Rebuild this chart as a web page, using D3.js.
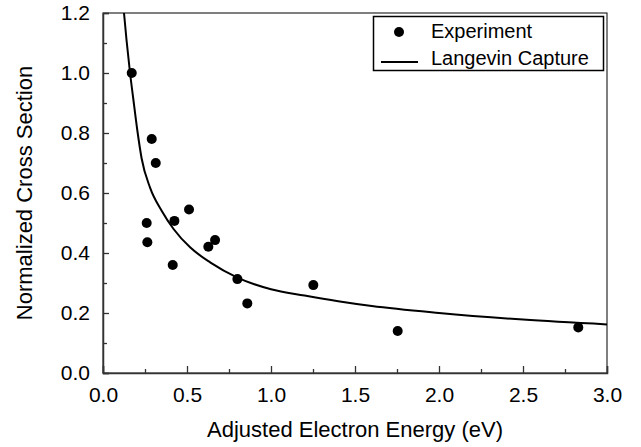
<!DOCTYPE html>
<html>
<head>
<meta charset="utf-8">
<script src="https://cdn.jsdelivr.net/npm/d3@7"></script>
<style>
  body { margin: 0; background: #fff; }
  text { font-family: "Liberation Sans", Arial, Helvetica, sans-serif; fill: #000; }
</style>
</head>
<body>
<script>
// experiment points (eV, normalized cross section)
const expEnergy = [0.171, 0.29, 0.314, 0.26, 0.264, 0.425, 0.512, 0.415, 0.627, 0.667, 0.80, 0.859, 1.252, 1.754, 2.829]
const expSigma  = [1.00, 0.78, 0.70, 0.50, 0.436, 0.507, 0.545, 0.36, 0.421, 0.443, 0.313, 0.232, 0.293, 0.14, 0.152]

// Langevin capture curve
const capEnergy = [0.125, 0.14, 0.161, 0.18, 0.204, 0.23, 0.28, 0.35, 0.42, 0.52, 0.64, 0.80, 1.0, 1.2, 1.4, 1.6, 2.0, 2.5, 3.0]
const capSigma  = [1.2, 1.11, 1.0, 0.915, 0.81, 0.715, 0.618, 0.54, 0.48, 0.418, 0.368, 0.318, 0.279, 0.258, 0.239, 0.223, 0.200, 0.178, 0.162]

const xMajor = [0, 0.5, 1.0, 1.5, 2.0, 2.5, 3.0]
const xMinor = [0.25, 0.75, 1.25, 1.75, 2.25, 2.75]
const yMajor = [0, 0.2, 0.4, 0.6, 0.8, 1.0, 1.2]
const yMinor = [0.1, 0.3, 0.5, 0.7, 0.9, 1.1]

const legendItems = ["Experiment", "Langevin Capture"]

const width = 641
const height = 447
const margin = {left: 103, right: 34, top: 13, bottom: 74}

const x = d3.scaleLinear().domain([0, 3]).range([margin.left, width - margin.right])
const y = d3.scaleLinear().domain([0, 1.2]).range([height - margin.bottom, margin.top])

const svg = d3.select("body").append("svg")
  .attr("width", width)
  .attr("height", height)

// frame top/right
svg.append("rect")
  .attr("x", x(0)).attr("y", y(1.2))
  .attr("width", x(3) - x(0)).attr("height", y(0) - y(1.2))
  .attr("fill", "none").attr("stroke", "#000").attr("stroke-width", 1)

// x axis
const gx = svg.append("g")
  .attr("transform", "translate(0," + y(0) + ")")
  .call(d3.axisBottom(x).tickValues(xMajor).tickSize(-7).tickPadding(16).tickFormat(d3.format(".1f")))
gx.append("g")
  .call(d3.axisBottom(x).tickValues(xMinor).tickSize(-4).tickFormat(""))
  .select(".domain").remove()

// y axis
const gy = svg.append("g")
  .attr("transform", "translate(" + x(0) + ",0)")
  .call(d3.axisLeft(y).tickValues(yMajor).tickSize(-6).tickPadding(13).tickFormat(d3.format(".1f")))
gy.append("g")
  .call(d3.axisLeft(y).tickValues(yMinor).tickSize(-4).tickFormat(""))
  .select(".domain").remove()

svg.selectAll(".domain").attr("stroke", "#333").attr("stroke-width", 1.5)
svg.selectAll(".tick line").attr("stroke", "#333").attr("stroke-width", 1.3)
svg.selectAll(".tick text").style("font-size", "21px").attr("fill", "#000")
gx.selectAll(".tick text").attr("dy", "0.6em")

// axis titles
svg.append("text")
  .attr("x", (x(0) + x(3)) / 2 + 0)
  .attr("y", 437)
  .attr("text-anchor", "middle")
  .style("font-size", "22px")
  .text("Adjusted Electron Energy (eV)")

svg.append("text")
  .attr("transform", "translate(32," + ((y(0) + y(1.2)) / 2) + ") rotate(-90)")
  .attr("text-anchor", "middle")
  .style("font-size", "22px")
  .text("Normalized Cross Section")

// curve
const capData = capEnergy.map((e, i) => [e, capSigma[i]])
const line = d3.line()
  .x(d => x(d[0]))
  .y(d => y(d[1]))
  .curve(d3.curveMonotoneX)

svg.append("path")
  .datum(capData)
  .attr("d", line)
  .attr("fill", "none")
  .attr("stroke", "#000")
  .attr("stroke-width", 2)

// points
const expData = expEnergy.map((e, i) => [e, expSigma[i]])
svg.selectAll("circle.pt")
  .data(expData)
  .enter()
  .append("circle")
  .attr("class", "pt")
  .attr("cx", d => x(d[0]))
  .attr("cy", d => y(d[1]))
  .attr("r", 5)
  .attr("fill", "#000")

// legend
const legend = svg.append("g").attr("id", "legend")
legend.append("rect")
  .attr("x", 373.5).attr("y", 16.5)
  .attr("width", 230).attr("height", 54)
  .attr("fill", "#fff").attr("stroke", "#000").attr("stroke-width", 1.5)
legend.append("circle")
  .attr("cx", 399).attr("cy", 32).attr("r", 5).attr("fill", "#000")
legend.append("line")
  .attr("x1", 381).attr("x2", 418).attr("y1", 62).attr("y2", 62)
  .attr("stroke", "#000").attr("stroke-width", 2)
legend.selectAll("text.lg")
  .data(legendItems)
  .enter()
  .append("text")
  .attr("class", "lg")
  .attr("x", 431)
  .attr("y", (d, i) => 38 + i * 27)
  .style("font-size", "20px")
  .text(d => d)
</script>
</body>
</html>
